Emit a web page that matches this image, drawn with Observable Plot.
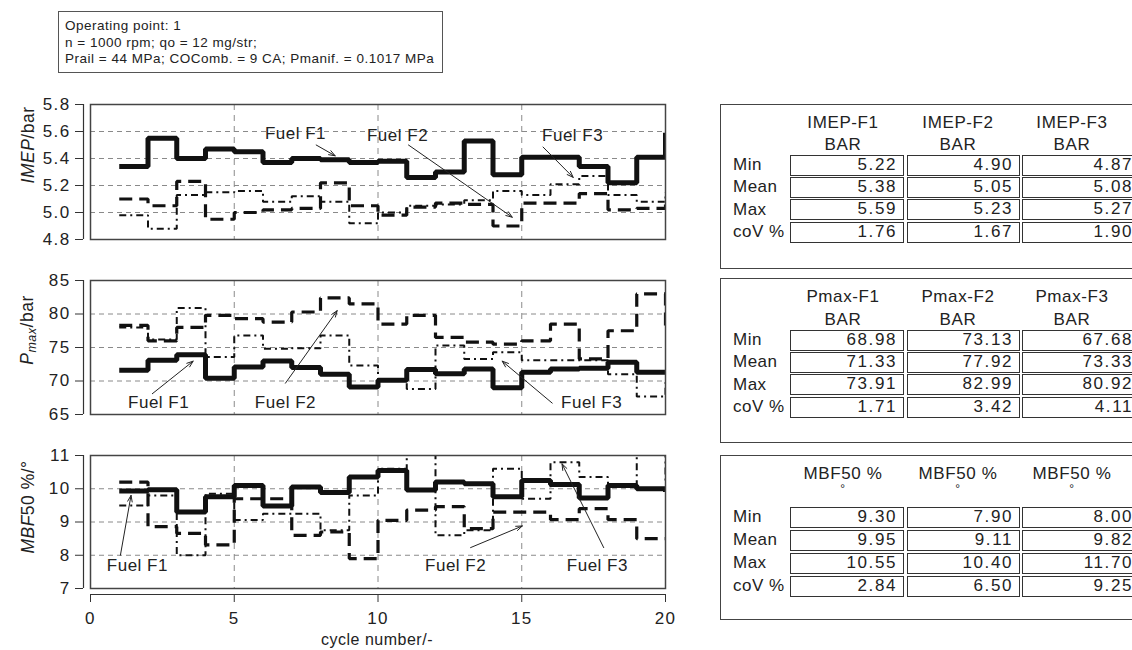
<!DOCTYPE html>
<html><head><meta charset="utf-8">
<script src="https://cdn.jsdelivr.net/npm/d3@7"></script>
<script src="https://cdn.jsdelivr.net/npm/@observablehq/plot@0.6"></script>
<style>
body{margin:0;background:#fff;}
#root{position:relative;width:1132px;height:650px;overflow:hidden;font-family:"Liberation Sans",Arial,sans-serif;color:#222;}
.a{position:absolute;white-space:nowrap;}
</style></head><body><div id="root"></div>
<script>
// ---------- data ----------
const cycles = [1,2,3,4,5,6,7,8,9,10,11,12,13,14,15,16,17,18,19,20];
const fuelNames = ["Fuel F1","Fuel F2","Fuel F3"];

const imepF1 = [5.34,5.55,5.40,5.47,5.45,5.37,5.40,5.39,5.37,5.38,5.26,5.30,5.53,5.28,5.41,5.41,5.34,5.22,5.41,5.59];
const imepF2 = [5.10,5.05,5.23,4.95,5.00,5.02,5.03,5.22,5.05,4.98,5.04,5.07,5.06,4.90,5.07,5.07,5.14,5.02,5.03,5.08];
const imepF3 = [4.98,4.88,5.13,5.15,5.16,5.08,5.12,5.08,4.92,5.00,5.05,5.06,5.09,5.16,5.13,5.21,5.27,5.13,5.08,5.15];

const pmaxF1 = [71.6,73.1,73.9,70.4,72.1,73.0,72.0,71.0,69.1,70.1,71.7,71.1,71.8,69.0,71.3,71.8,71.9,72.8,71.3,71.3];
const pmaxF2 = [78.3,76.0,78.0,79.8,79.3,78.8,80.3,82.4,81.5,78.5,79.8,76.5,75.8,75.5,76.0,78.5,73.3,77.5,82.99,78.0];
const pmaxF3 = [78.0,76.2,80.9,73.6,76.8,74.8,74.9,76.8,72.3,70.0,68.8,75.3,73.3,74.3,73.1,73.1,73.1,71.0,67.7,69.8];

const mbfF1 = [9.93,9.97,9.30,9.76,10.1,9.48,10.05,9.89,10.35,10.55,9.96,10.2,10.15,9.76,10.25,10.13,9.72,10.1,10.0,9.9];
const mbfF2 = [10.2,8.86,8.66,8.31,9.7,9.7,8.6,8.7,7.9,9.05,9.36,9.46,8.8,9.3,9.3,9.07,9.4,9.07,8.5,8.5];
const mbfF3 = [9.5,9.8,8.0,9.85,9.06,9.25,9.25,8.75,9.8,10.6,11.4,8.6,8.75,10.6,9.7,10.8,10.35,10.05,11.7,10.2];

const xTicks = [0,5,10,15,20];
const xGrid = [5,10,15];
const imepTicks = [4.8,5.0,5.2,5.4,5.6,5.8];
const pmaxTicks = [65,70,75,80,85];
const mbfTicks = [7,8,9,10,11];

// annotation positions (data coordinates): label centre, arrow start, arrow end
const imepNoteX = [7.13,10.68,16.77], imepNoteY = [5.587,5.57,5.57];
const imepArrX1 = [7.85,11.06,15.74], imepArrY1 = [5.50,5.50,5.485];
const imepArrX2 = [8.51,14.67,16.79], imepArrY2 = [5.42,4.965,5.26];

const pmaxNoteX = [2.37,6.78,17.43], pmaxNoteY = [66.8,66.8,66.8];
const pmaxArrX1 = [2.15,6.78,16.06], pmaxArrY1 = [68.1,69.67,66.7];
const pmaxArrX2 = [3.57,8.58,14.32], pmaxArrY2 = [72.96,80.5,72.96];

const mbfNoteX = [1.63,12.7,17.63], mbfNoteY = [7.7,7.7,7.7];
const mbfArrX1 = [1.04,13.22,17.85], mbfArrY1 = [8.0,8.23,8.23];
const mbfArrX2 = [1.41,15.02,16.4], mbfArrY2 = [9.8,8.88,10.75];

// tables
const rowLabels = ["Min","Mean","Max","coV %"];
const imepHead = ["IMEP-F1","IMEP-F2","IMEP-F3"], imepUnit = "BAR";
const imepMin = [5.22,4.90,4.87], imepMean = [5.38,5.05,5.08], imepMax = [5.59,5.23,5.27], imepCov = [1.76,1.67,1.90];
const pmaxHead = ["Pmax-F1","Pmax-F2","Pmax-F3"], pmaxUnit = "BAR";
const pmaxMin = [68.98,73.13,67.68], pmaxMean = [71.33,77.92,73.33], pmaxMax = [73.91,82.99,80.92], pmaxCov = [1.71,3.42,4.11];
const mbfHead = ["MBF50 %","MBF50 %","MBF50 %"], mbfUnit = "°";
const mbfMin = [9.30,7.90,8.00], mbfMean = [9.95,9.11,9.82], mbfMax = [10.55,10.40,11.70], mbfCov = [2.84,6.50,9.25];

const headerLines = ["Operating point: 1","n = 1000 rpm; qo = 12 mg/str;","Prail = 44 MPa; COComb. = 9 CA; Pmanif. = 0.1017 MPa"];

// ---------- drawing ----------
const root = document.getElementById("root");
function el(html, style){ const d=document.createElement("div"); d.className="a"; d.innerHTML=html; Object.assign(d.style, style); root.appendChild(d); return d; }

const lineStyles = [
  {strokeWidth:5},
  {strokeWidth:3.2, strokeDasharray:"13,7"},
  {strokeWidth:2, strokeDasharray:"7,4,2,4"}
];
const gridStyle = {stroke:"#8a8a8a", strokeOpacity:1, strokeWidth:1};

function panel(o){
  const rows = [];
  o.series.forEach((vals,k)=>vals.forEach((v,i)=>rows.push({k, x:cycles[i], y:v})));
  const notes = fuelNames.map((f,i)=>({label:f, tx:o.nx[i], ty:o.ny[i], x1:o.ax1[i], y1:o.ay1[i], x2:o.ax2[i], y2:o.ay2[i]}));
  const marks = [
    Plot.gridY(o.ticks.slice(1,-1), {...gridStyle, strokeDasharray:"5,4"}),
    Plot.gridX(xGrid, {...gridStyle, strokeDasharray:"6,5"}),
    ...lineStyles.map((s,k)=>Plot.line(rows.filter(d=>d.k===k), {x:"x", y:"y", curve:"step-after", stroke:"#111", strokeLinecap:"butt", strokeLinejoin:"miter", clip:true, ...s})),
    Plot.frame({stroke:"#444", strokeWidth:1.5}),
    Plot.arrow(notes, {x1:"x1", y1:"y1", x2:"x2", y2:"y2", stroke:"#222", strokeWidth:1, headLength:10, headAngle:40}),
    Plot.text(notes, {x:"tx", y:"ty", text:"label", fontSize:17, fill:"#222"}),
    Plot.axisY(o.ticks, {tickSize:8, tickPadding:5, dx:-7, tickFormat:o.fmt, fontSize:17, stroke:"#333"}),
    Plot.ruleX([0], {dx:-7, stroke:"#333", strokeWidth:1.2})
  ];
  if (o.withX) {
    marks.push(Plot.axisX(xTicks, {tickSize:8, tickPadding:9, dy:6, fontSize:17, stroke:"#333"}));
    marks.push(Plot.ruleY([o.domain[0]], {dy:6, stroke:"#333", strokeWidth:1.2}));
  }
  const svg = Plot.plot({
    width:680, height:o.height, marginLeft:90, marginRight:15, marginTop:10, marginBottom:o.mb,
    x:{domain:[0,20], ...(o.withX?{}:{axis:null})},
    y:{domain:o.domain},
    style:{fontFamily:"Liberation Sans, Arial, sans-serif", color:"#222", background:"transparent", overflow:"visible"},
    marks
  });
  svg.querySelectorAll('[aria-label$="tick label"] text').forEach(t=>t.setAttribute("letter-spacing","1.4"));
  svg.querySelectorAll('[aria-label="text"] text').forEach(t=>t.setAttribute("letter-spacing","0.5"));
  const w = document.createElement("div"); w.className="a"; w.style.left="0px"; w.style.top=o.top+"px";
  w.appendChild(svg); root.appendChild(w);
}

panel({series:[imepF1,imepF2,imepF3], domain:[4.8,5.8], ticks:imepTicks, fmt:d3.format(".1f"), top:94, height:155, mb:10,
  nx:imepNoteX, ny:imepNoteY, ax1:imepArrX1, ay1:imepArrY1, ax2:imepArrX2, ay2:imepArrY2});
panel({series:[pmaxF1,pmaxF2,pmaxF3], domain:[65,85], ticks:pmaxTicks, fmt:d3.format("d"), top:270, height:154, mb:10,
  nx:pmaxNoteX, ny:pmaxNoteY, ax1:pmaxArrX1, ay1:pmaxArrY1, ax2:pmaxArrX2, ay2:pmaxArrY2});
panel({series:[mbfF1,mbfF2,mbfF3], domain:[7,11], ticks:mbfTicks, fmt:d3.format("d"), top:445, height:183, mb:40, withX:true,
  nx:mbfNoteX, ny:mbfNoteY, ax1:mbfArrX1, ay1:mbfArrY1, ax2:mbfArrX2, ay2:mbfArrY2});

// axis titles
const rot = {transform:"translate(-50%,-50%) rotate(-90deg)", fontSize:"17.5px", letterSpacing:"0.5px"};
el("<i>IMEP</i>/bar", {left:"28px", top:"145px", ...rot});
el("<i>P</i><sub style='font-size:12.5px;vertical-align:-3px'><i>max</i></sub>/bar", {left:"28px", top:"330px", ...rot});
el("<i>MBF</i>50 %/°", {left:"28px", top:"507px", ...rot});
el("cycle number/-", {left:"377px", top:"640px", transform:"translate(-50%,-50%)", fontSize:"16px", letterSpacing:"0.5px"});

// header box
el("", {left:"58px", top:"11px", width:"385px", height:"62px", border:"1.3px solid #555", boxSizing:"border-box"});
headerLines.forEach((t,i)=>el(t, {left:"65px", top:(25+i*16.5)+"px", transform:"translateY(-50%)", fontSize:"13.5px", letterSpacing:"0.5px"}));

// stats tables
const colLeft = [790,907,1022], colW = [114,113,118], headC = [843,958,1072];
function table(top, heads, unit, unitStyle, stats, r0, rs){
  el("", {left:"720px", top:top+"px", width:"440px", height:"165px", border:"1.5px solid #444", boxSizing:"border-box"});
  heads.forEach((h,j)=>{
    el(h, {left:headC[j]+"px", top:(top+19)+"px", transform:"translate(-50%,-50%)", fontSize:"17px", letterSpacing:"0.6px"});
    el(unit, {left:headC[j]+"px", top:(top+unitStyle.dy)+"px", transform:"translate(-50%,-50%)", fontSize:unitStyle.fs, letterSpacing:"0.6px"});
  });
  rowLabels.forEach((lab,i)=>{
    const cy = top + r0 + i*rs;
    el(lab, {left:"733px", top:cy+"px", transform:"translateY(-50%)", fontSize:"17px", letterSpacing:"0.5px"});
    stats[i].forEach((v,j)=>{
      el(v.toFixed(2), {left:colLeft[j]+"px", top:(cy-10.5)+"px", width:colW[j]+"px", height:"21px", border:"1.5px solid #333",
        boxSizing:"border-box", textAlign:"right", paddingRight:"6px", fontSize:"17px", lineHeight:"18px", letterSpacing:"1.6px"});
    });
  });
}
table(104, imepHead, imepUnit, {dy:41, fs:"17px"}, [imepMin,imepMean,imepMax,imepCov], 61, 22.4);
table(278, pmaxHead, pmaxUnit, {dy:42, fs:"17px"}, [pmaxMin,pmaxMean,pmaxMax,pmaxCov], 62, 22.4);
table(455, mbfHead, mbfUnit, {dy:34, fs:"12px"}, [mbfMin,mbfMean,mbfMax,mbfCov], 62, 23);
</script></body></html>
